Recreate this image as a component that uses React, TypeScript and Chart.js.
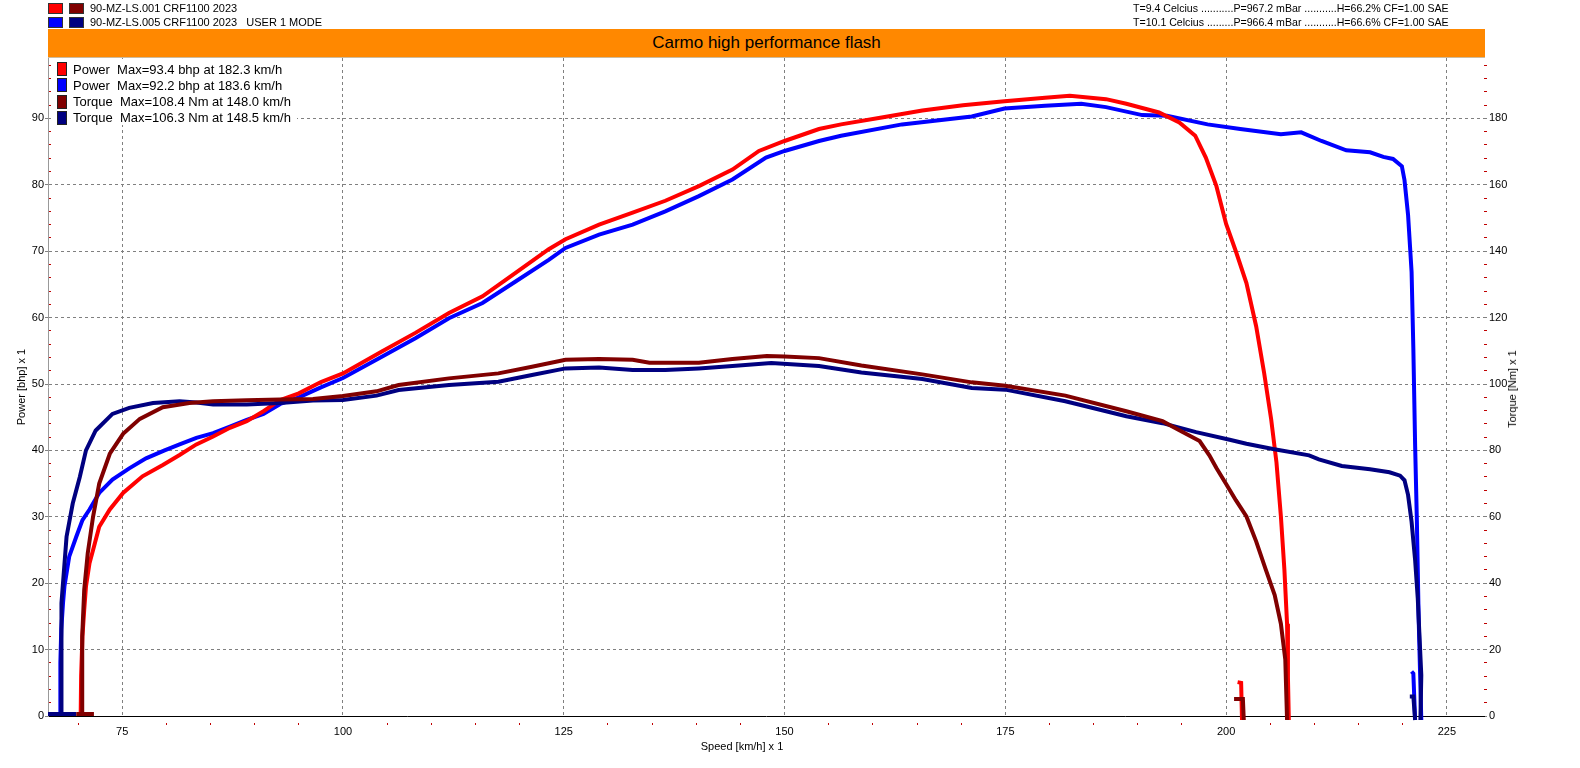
import { useEffect, useRef } from "react"
import { Chart, registerables } from "chart.js"

Chart.register(...registerables)

const FONT = '"Liberation Sans", Arial, sans-serif'

// axis ranges (speed km/h, power bhp, torque Nm)
const SPEED_MIN = 66.6
const SPEED_MAX = 229.2
const POWER_MAX = 99.1
const TORQUE_MAX = 198.2

// run 001 - power (bhp)
const powerRun1Speed = [70.3, 70.35, 70.5, 70.7, 70.9, 71.3, 71.8, 72.4, 73.6, 75.1, 77.3, 79.6, 81.5, 83.4, 85.3, 87.2, 89.1, 91.0, 92.9, 95.0, 97.5, 100.0, 104.4, 108.2, 112.0, 115.8, 119.5, 123.3, 125.2, 129.0, 132.8, 136.5, 140.3, 144.1, 147.1, 150.0, 153.9, 156.4, 161.0, 165.6, 170.2, 174.9, 179.5, 182.3, 186.4, 188.7, 192.4, 194.7, 196.5, 197.7, 198.9, 200.0, 201.1, 202.3, 203.4, 204.3, 205.1, 205.7, 206.2, 206.6, 206.9, 207.0, 207.1]
const powerRun1Bhp = [0, 6, 12, 16, 19.5, 23, 25.5, 28.5, 31.1, 33.6, 36.1, 37.8, 39.3, 40.9, 42.1, 43.4, 44.4, 45.9, 47.6, 48.6, 50.3, 51.6, 54.9, 57.7, 60.7, 63.2, 66.7, 70.3, 71.8, 74.0, 75.8, 77.6, 79.8, 82.3, 85.1, 86.6, 88.4, 89.1, 90.15, 91.2, 92.0, 92.6, 93.1, 93.4, 92.9, 92.2, 90.9, 89.4, 87.4, 84.1, 79.8, 74.1, 70.0, 65.2, 58.7, 51.7, 44.7, 38.2, 30.1, 22.0, 13.9, 5.8, -0.6]
const powerRun1TailSpeed = [201.3, 201.7, 201.8]
const powerRun1TailBhp = [5.1, 5.0, -0.6]

// run 005 - power (bhp)
const powerRun2Speed = [68.0, 68.0, 68.1, 68.3, 68.46, 69.0, 69.8, 70.5, 71.3, 72.4, 73.9, 75.8, 77.7, 79.8, 81.5, 83.4, 85.3, 87.2, 89.1, 91.0, 92.9, 95.0, 97.5, 100.0, 104.4, 108.2, 112.0, 115.8, 119.5, 123.3, 125.2, 129.0, 132.8, 136.5, 140.3, 144.1, 147.9, 150.0, 153.9, 156.4, 163.3, 171.2, 174.9, 179.5, 183.6, 186.4, 190.5, 193.3, 197.9, 201.6, 206.2, 208.5, 210.8, 213.6, 216.3, 217.8, 218.9, 219.9, 220.2, 220.6, 221.0, 221.2, 221.4, 221.6, 221.8, 222.1]
const powerRun2Bhp = [0, 8, 13, 17, 19.5, 24.0, 27.0, 29.5, 31.1, 33.6, 35.6, 37.3, 38.8, 40.0, 40.9, 41.9, 42.6, 43.6, 44.6, 45.5, 47.0, 48.0, 49.5, 50.9, 54.1, 56.9, 59.9, 62.2, 65.4, 68.7, 70.5, 72.5, 74.0, 76.0, 78.3, 80.8, 84.1, 85.1, 86.6, 87.4, 89.1, 90.3, 91.5, 91.9, 92.2, 91.7, 90.5, 90.4, 89.1, 88.4, 87.6, 87.9, 86.6, 85.2, 84.9, 84.2, 83.9, 82.8, 80.7, 75.5, 66.9, 55.3, 40.8, 29.3, 14.8, -0.6]
const powerRun2TailSpeed = [221.0, 221.2, 221.4]
const powerRun2TailBhp = [6.7, 6.4, -0.6]

// run 001 - torque (Nm)
const torqueRun1Speed = [69.8, 71.8, 70.45, 70.45, 70.5, 70.7, 71.1, 71.7, 72.4, 73.6, 75.1, 77.0, 79.6, 82.6, 85.3, 89.1, 92.9, 96.6, 100.0, 103.8, 106.3, 112.0, 117.6, 121.4, 125.2, 129.0, 132.8, 134.7, 140.3, 144.1, 148.0, 150.0, 153.9, 158.7, 165.6, 171.2, 175.0, 181.8, 188.7, 192.8, 194.7, 197.0, 198.1, 198.9, 200.0, 201.1, 202.3, 203.4, 204.5, 205.5, 206.2, 206.7, 206.9]
const torqueRun1Nm = [0.6, 0.6, 0.6, 12, 24, 38, 49, 60, 70, 79, 85, 89.5, 93.0, 94.3, 94.8, 95.1, 95.3, 95.5, 96.4, 97.8, 99.7, 101.7, 103.2, 105.2, 107.3, 107.5, 107.3, 106.4, 106.4, 107.5, 108.4, 108.3, 107.8, 105.6, 102.9, 100.5, 99.5, 96.5, 91.8, 88.8, 86.1, 82.8, 78.5, 74.7, 69.9, 65.0, 60.1, 52.6, 44.0, 36.4, 27.8, 17.0, -1.2]
const torqueRun1TailSpeed = [200.9, 201.9, 202.0]
const torqueRun1TailNm = [5.1, 5.1, -1.2]

// run 005 - torque (Nm)
const torqueRun2Speed = [66.6, 69.8, 68.1, 68.1, 68.15, 68.7, 69.4, 70.2, 70.9, 72.0, 73.9, 75.8, 78.5, 81.5, 83.4, 85.3, 89.1, 92.9, 96.6, 100.0, 103.8, 106.3, 112.0, 117.6, 121.4, 125.2, 129.0, 132.8, 136.5, 140.3, 144.1, 148.5, 153.9, 158.7, 165.6, 171.2, 175.0, 181.8, 188.7, 192.8, 196.6, 200.4, 202.3, 205.3, 209.4, 210.5, 213.1, 216.3, 218.5, 219.7, 220.2, 220.6, 221.0, 221.4, 221.7, 221.9, 222.1, 222.0]
const torqueRun2Nm = [0.6, 0.6, 0.6, 20, 34, 54, 64, 72, 80, 86, 91, 92.8, 94.3, 94.8, 94.4, 93.8, 93.8, 94.3, 95.0, 95.2, 96.5, 98.2, 99.7, 100.7, 102.7, 104.7, 105.0, 104.2, 104.2, 104.7, 105.4, 106.3, 105.4, 103.5, 101.5, 98.8, 98.3, 94.8, 90.3, 88.2, 85.5, 83.2, 82.0, 80.4, 78.5, 77.3, 75.3, 74.3, 73.4, 72.4, 71.0, 66.6, 58.5, 47.0, 35.4, 23.8, 12.3, -1.2]
const torqueRun2TailSpeed = [220.8, 221.2, 221.4]
const torqueRun2TailNm = [5.9, 5.9, -1.2]

const RED = "#ff0000"
const BLUE = "#0000ff"
const DARK_RED = "#800000"
const NAVY = "#000080"
const MINOR = "#c00000"
const GRID = "#808080"

const runNames = ["90-MZ-LS.001 CRF1100 2023", "90-MZ-LS.005 CRF1100 2023   USER 1 MODE"]
const runColors = [[RED, DARK_RED], [BLUE, NAVY]]
const conditions = [
  "T=9.4 Celcius ...........P=967.2 mBar ...........H=66.2% CF=1.00 SAE",
  "T=10.1 Celcius .........P=966.4 mBar ...........H=66.6% CF=1.00 SAE",
]
const legendItems = [
  { color: RED, text: "Power  Max=93.4 bhp at 182.3 km/h" },
  { color: BLUE, text: "Power  Max=92.2 bhp at 183.6 km/h" },
  { color: DARK_RED, text: "Torque  Max=108.4 Nm at 148.0 km/h" },
  { color: NAVY, text: "Torque  Max=106.3 Nm at 148.5 km/h" },
]

const points = (xs: number[], ys: number[]) => xs.map((x, i) => ({ x, y: ys[i] }))

const curve = (label: string, xs: number[], ys: number[], color: string, axis: string) => ({
  label,
  data: points(xs, ys),
  borderColor: color,
  backgroundColor: color,
  borderWidth: 4,
  pointRadius: 0,
  tension: 0,
  fill: false,
  clip: false,
  yAxisID: axis,
})

// minor tick colour: red, hidden where a major tick sits
const minorTick = (every: number) => (c: any) =>
  c.tick && Math.abs(c.tick.value % every) < 1e-6 ? "rgba(0,0,0,0)" : MINOR

const tickFont = { family: FONT, size: 11 }

export default function App() {
  const chartRef = useRef<HTMLCanvasElement>(null)

  useEffect(() => {
    if (!chartRef.current) return

    const chart = new Chart(chartRef.current, {
      type: "line",
      data: {
        datasets: [
          curve("Torque 001", torqueRun1Speed, torqueRun1Nm, DARK_RED, "y2"),
          curve("Torque 001 tail", torqueRun1TailSpeed, torqueRun1TailNm, DARK_RED, "y2"),
          curve("Torque 005", torqueRun2Speed, torqueRun2Nm, NAVY, "y2"),
          curve("Torque 005 tail", torqueRun2TailSpeed, torqueRun2TailNm, NAVY, "y2"),
          curve("Power 001", powerRun1Speed, powerRun1Bhp, RED, "y"),
          curve("Power 001 tail", powerRun1TailSpeed, powerRun1TailBhp, RED, "y"),
          curve("Power 005", powerRun2Speed, powerRun2Bhp, BLUE, "y"),
          curve("Power 005 tail", powerRun2TailSpeed, powerRun2TailBhp, BLUE, "y"),
        ],
      },
      options: {
        animation: false,
        responsive: false,
        events: [],
        layout: { padding: { top: 58, left: 0, right: 0, bottom: 0 } },
        plugins: {
          legend: { display: false },
          tooltip: { enabled: false },
        },
        scales: {
          // minor speed ticks + black zero line, right under the plot
          xMinor: {
            type: "linear",
            position: "bottom",
            weight: 0,
            min: SPEED_MIN,
            max: SPEED_MAX,
            afterFit: (s: any) => {
              s.height = 6
            },
            ticks: { display: false, stepSize: 5, includeBounds: false },
            grid: {
              drawOnChartArea: false,
              drawTicks: true,
              tickLength: 9,
              tickWidth: 1,
              tickColor: minorTick(25),
              tickBorderDash: [0, 6, 3, 30],
            },
            border: { display: true, color: "#000", width: 1 },
          },
          x: {
            type: "linear",
            position: "bottom",
            weight: 1,
            min: SPEED_MIN,
            max: SPEED_MAX,
            afterFit: (s: any) => {
              s.height = 46
            },
            ticks: {
              stepSize: 25,
              includeBounds: false,
              padding: 3,
              color: "#000",
              font: tickFont,
            },
            grid: { color: GRID, lineWidth: 1, drawTicks: false },
            border: { display: false, dash: [3, 3] },
          },
          y: {
            type: "linear",
            position: "left",
            weight: 1,
            min: 0,
            max: POWER_MAX,
            afterFit: (s: any) => {
              s.width = 48
            },
            ticks: {
              stepSize: 10,
              includeBounds: false,
              padding: 1,
              color: "#000",
              font: tickFont,
            },
            grid: {
              color: (c: any) => (c.tick && c.tick.value === 0 ? "rgba(0,0,0,0)" : GRID),
              lineWidth: 1,
              tickLength: 3,
              tickColor: GRID,
            },
            border: { display: true, color: "#999999", width: 1, dash: [3, 3] },
            title: {
              display: true,
              text: "Power [bhp] x 1",
              color: "#000",
              font: { family: FONT, size: 11 },
              padding: { top: 15, bottom: 0 },
            },
          },
          yMinorL: {
            type: "linear",
            position: "left",
            weight: 0,
            min: 0,
            max: POWER_MAX,
            afterFit: (s: any) => {
              s.width = 0
            },
            ticks: { display: false, stepSize: 2, includeBounds: false },
            grid: {
              drawOnChartArea: false,
              drawTicks: true,
              tickLength: -3,
              tickWidth: 1,
              tickColor: minorTick(10),
            },
            border: { display: false },
          },
          y2: {
            type: "linear",
            position: "right",
            weight: 1,
            min: 0,
            max: TORQUE_MAX,
            afterFit: (s: any) => {
              s.width = 96
            },
            ticks: {
              stepSize: 20,
              includeBounds: false,
              padding: 2,
              color: "#000",
              font: tickFont,
            },
            grid: { drawOnChartArea: false, tickLength: 3, tickColor: GRID },
            border: { display: false },
          },
          yMinorR: {
            type: "linear",
            position: "right",
            weight: 0,
            min: 0,
            max: TORQUE_MAX,
            afterFit: (s: any) => {
              s.width = 0
            },
            ticks: { display: false, stepSize: 4, includeBounds: false },
            grid: {
              drawOnChartArea: false,
              drawTicks: true,
              tickLength: 3,
              tickWidth: 1,
              tickColor: minorTick(20),
            },
            border: { display: false },
          },
        },
      } as any,
    })

    return () => {
      chart.destroy()
    }
  }, [])

  return (
    <div
      style={{
        position: "absolute",
        left: 0,
        top: 0,
        width: 1580,
        height: 768,
        background: "#fff",
        overflow: "hidden",
        fontFamily: FONT,
        color: "#000",
      }}
    >
      <canvas ref={chartRef} width={1580} height={768} style={{ position: "absolute", left: 0, top: 0 }} />

      {/* run names */}
      {runNames.map((name, i) => (
        <div key={name} style={{ position: "absolute", left: 48, top: 3 + i * 13.5, height: 11, display: "flex", alignItems: "center" }}>
          {runColors[i].map((c) => (
            <span
              key={c}
              style={{ display: "inline-block", width: 13, height: 9, background: c, border: "1px solid #333", marginRight: 6 }}
            />
          ))}
          <span style={{ fontSize: 11, lineHeight: "11px", whiteSpace: "pre" }}>{name}</span>
        </div>
      ))}

      {/* test conditions */}
      {conditions.map((t, i) => (
        <div key={t} style={{ position: "absolute", left: 1133, top: 2 + i * 13.5, fontSize: 10.6, lineHeight: "13px", whiteSpace: "pre" }}>
          {t}
        </div>
      ))}

      {/* title bar */}
      <div
        style={{
          position: "absolute",
          left: 48,
          top: 29,
          width: 1437,
          height: 28,
          background: "#ff8800",
          borderBottom: "1px solid #cdbb9e",
          display: "flex",
          alignItems: "center",
          justifyContent: "center",
          fontSize: 17,
        }}
      >
        Carmo high performance flash
      </div>

      {/* legend */}
      <div style={{ position: "absolute", left: 51, top: 59, width: 246, height: 66, background: "#fff" }}>
        {legendItems.map((it, i) => (
          <div key={it.text} style={{ position: "absolute", left: 6, top: 2 + i * 16.3, height: 16, display: "flex", alignItems: "center" }}>
            <span style={{ display: "inline-block", width: 8, height: 12, background: it.color, border: "1px solid #222", marginRight: 6 }} />
            <span style={{ fontSize: 13, whiteSpace: "pre" }}>{it.text}</span>
          </div>
        ))}
      </div>

      {/* axis titles the library cannot place like the original */}
      <div style={{ position: "absolute", left: 742, top: 746, transform: "translate(-50%, -50%)", fontSize: 11, whiteSpace: "nowrap" }}>
        Speed [km/h] x 1
      </div>
      <div
        style={{
          position: "absolute",
          left: 1512,
          top: 389,
          transform: "translate(-50%, -50%) rotate(-90deg)",
          fontSize: 11,
          whiteSpace: "nowrap",
        }}
      >
        Torque [Nm] x 1
      </div>
    </div>
  )
}
